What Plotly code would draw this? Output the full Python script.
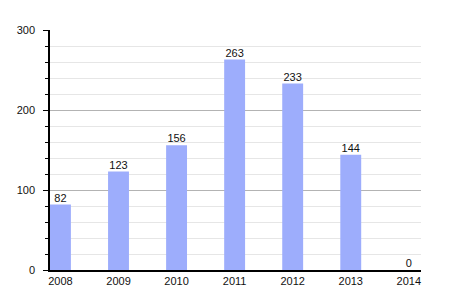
import plotly.graph_objects as go

years = ["2008", "2009", "2010", "2011", "2012", "2013", "2014"]
values = [82, 123, 156, 263, 233, 144, 0]
y_ticks = [0, 100, 200, 300]

fig = go.Figure()
fig.add_trace(go.Bar(x=years, y=values, marker=dict(color="#9dadfc", line=dict(width=0)),
                     width=0.36, hoverinfo="skip"))
fig.add_trace(go.Scatter(x=years, y=values, mode="text", text=[str(v) for v in values],
                         textposition="top center",
                         textfont=dict(family="Liberation Sans, Arial", size=11, color="#111"),
                         hoverinfo="skip"))

fig.update_layout(
    width=450, height=300, showlegend=False,
    margin=dict(l=50, r=29, t=30, b=30),
    plot_bgcolor="white", paper_bgcolor="white",
    font=dict(family="Liberation Sans, Arial", size=11, color="#111"),
    xaxis=dict(type="category", range=[-0.18, 6.21], showline=True, linecolor="black",
               linewidth=1.5, ticks="", showgrid=False, zeroline=False,
               tickfont=dict(size=11)),
    yaxis=dict(range=[0, 300], tickvals=y_ticks, showline=True, linecolor="black", linewidth=1.5,
               ticks="outside", ticklen=5, tickcolor="black", tickwidth=1,
               showgrid=True, gridcolor="#b3b3b3", gridwidth=1, zeroline=False,
               ticklabelstandoff=6,
               minor=dict(dtick=20, tick0=0, showgrid=True, gridcolor="#e6e6e6", gridwidth=1,
                          ticks="outside", ticklen=3, tickcolor="black"),
               tickfont=dict(size=11)),
)
fig.write_html("out.html")
